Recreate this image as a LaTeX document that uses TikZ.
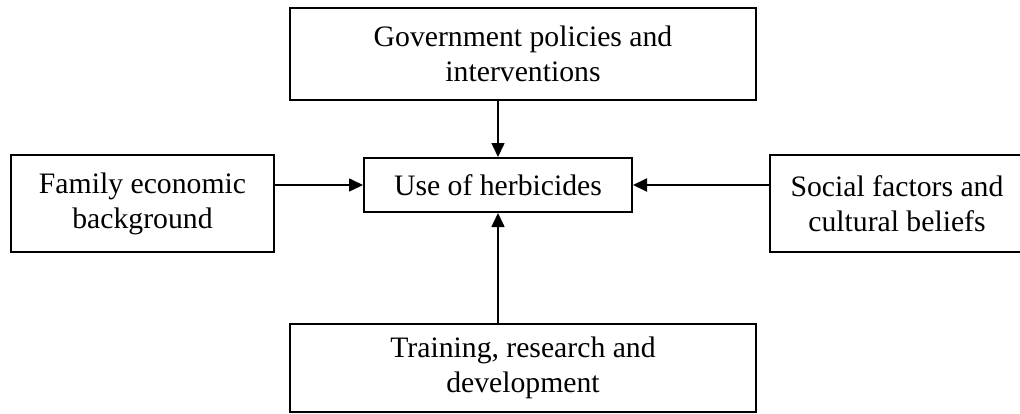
\documentclass[tikz,border=0pt]{standalone}
\usepackage{fontspec}
\setmainfont{Liberation Serif}
\usetikzlibrary{arrows.meta,calc,positioning}

\begin{document}
\begin{tikzpicture}[x=1pt,y=-1pt,
    factor/.style={draw,line width=2pt,align=center,inner sep=0pt,
      font=\fontsize{29.7}{35}\selectfont},
    arr/.style={line width=1.6pt,-{Triangle[length=14pt,width=13pt]}}]
  \useasboundingbox (0,0) rectangle (1020,413);
  \node[factor,minimum width=466pt,minimum height=92pt] (gov) at (523,54)
    {Government policies and\\interventions};
  \node[factor,minimum width=268pt,minimum height=54pt] (use) at (498,185)
    {Use of herbicides};
  \node[factor,minimum width=263pt,minimum height=97pt] (fam) at (142.5,203.5)
    {Family economic\\background};
  \node[factor,minimum width=254pt,minimum height=97pt] (soc) at (897,203.5)
    {Social factors and\\cultural beliefs};
  \node[factor,minimum width=466pt,minimum height=88pt] (trd) at (523,368)
    {Training, research and\\development};
  \draw[arr] (gov.south -| use.north) -- (use.north);
  \draw[arr] (trd.north -| use.south) -- (use.south);
  \draw[arr] (fam.east |- use.west) -- (use.west);
  \draw[arr,line width=2pt] (soc.west |- use.east) -- (use.east);
\end{tikzpicture}
\end{document}
